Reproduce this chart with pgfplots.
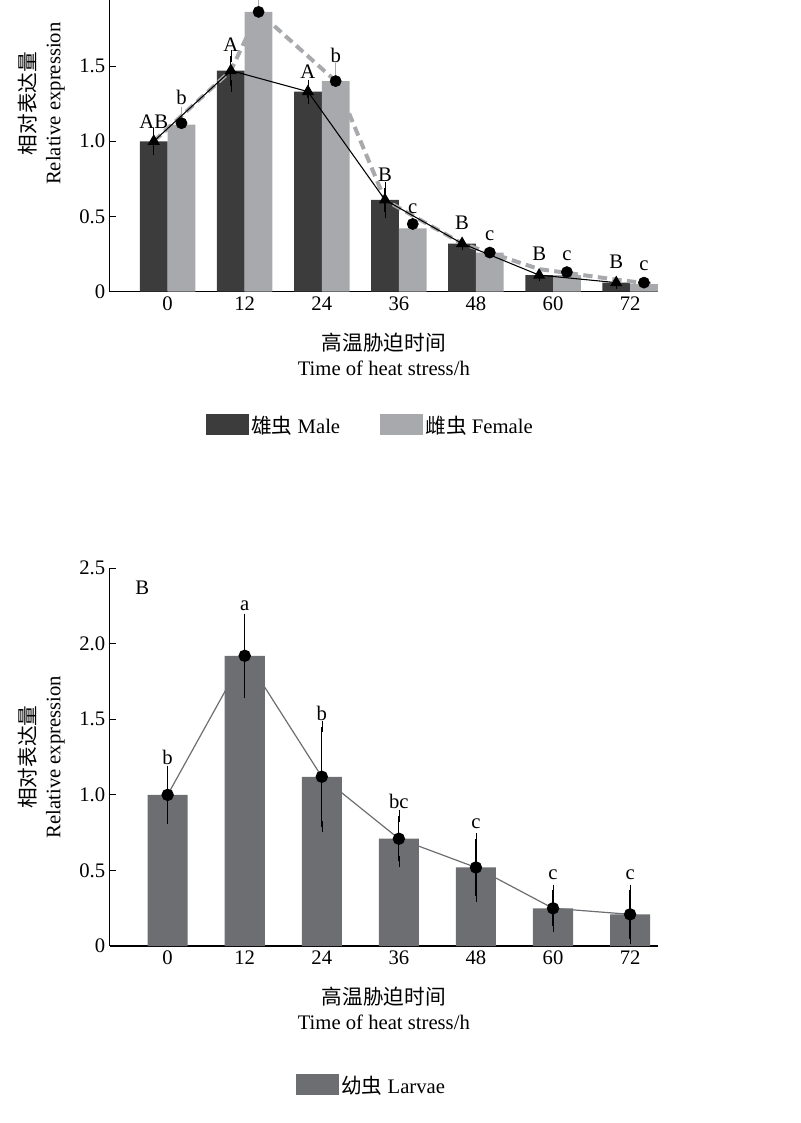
\documentclass[border=0pt]{standalone}
\usepackage{pgfplots}
\pgfplotsset{compat=1.18}
\usepackage{fontspec}
\setmainfont{Liberation Serif}
\newfontfamily\cjk{Noto Sans CJK SC}
\definecolor{dk}{HTML}{3C3C3D}
\definecolor{lt}{HTML}{A7A9AC}
\definecolor{md}{HTML}{6D6E71}
\pgfplotsset{
  base/.style={
    scale only axis, width=411pt, height=282pt,
    axis lines=left, axis line style={-, line width=0.9pt},
    xmin=-0.75, xmax=6.36, ymin=0, ymax=2.5,
    xtick={0,1,2,3,4,5,6}, xticklabels={0,12,24,36,48,60,72},
    x tick style={draw=none},
    ytick={0,0.5,1,1.5,2,2.5}, yticklabels={0,0.5,1.0,1.5,2.0,2.5},
    tick align=inside, major tick length=5pt, y tick style={line width=0.8pt,black},
    /pgf/number format/assume math mode=true,
    ticklabel style={font=\fontsize{15.5}{18}\selectfont},
    label style={font=\fontsize{15.5}{19}\selectfont, align=center},
    xlabel={{\cjk 高温胁迫时间}\\Time of heat stress/h},
    ylabel={{\cjk 相对表达量}\\Relative expression},
    xlabel style={yshift=-10pt},
    ylabel style={yshift=4pt},
    legend style={draw=none, font=\fontsize{15.5}{18}\selectfont, legend columns=-1,
      /tikz/every even column/.append style={column sep=28pt}},
    legend image code/.code={\fill[#1] (0pt,-7pt) rectangle (32pt,9pt);},
    error bars/error bar style={line width=0.9pt},
    error bars/error mark=-,
    error bars/error mark options={mark size=5pt, line width=0.9pt},
  }
}
\begin{document}
\begin{tikzpicture}[x=1pt,y=1pt]
\useasboundingbox (0,0) rectangle (600,842.25);
\begin{axis}[base, at={(142.5,552.75)}, anchor=south west,
  legend style={at={(0.476,-0.357)}, anchor=center}]
\addplot[ybar, bar width=0.36, bar shift=-0.18, fill=dk, draw=none] coordinates {(0,1.00)(1,1.47)(2,1.33)(3,0.61)(4,0.32)(5,0.11)(6,0.06)};
\addlegendentry{{\cjk 雄虫} Male}
\addplot[ybar, bar width=0.36, bar shift=0.18, fill=lt, draw=none] coordinates {(0,1.11)(1,1.86)(2,1.40)(3,0.42)(4,0.26)(5,0.11)(6,0.05)};
\addlegendentry{{\cjk 雌虫} Female}
\addplot[lt, forget plot, draw=none, mark=none, error bars/.cd, y dir=plus, y explicit, error bar style={lt}, error mark options={lt}] coordinates {(0.18,1.11)+-(0,0.10) (1.18,1.86)+-(0,0.28) (2.18,1.40)+-(0,0.10)};
\addplot[lt, dashed, dash pattern=on 7pt off 4pt, line width=3pt, forget plot] coordinates {(-0.18,1.00)(0.82,1.47)(1.18,1.86)(2.18,1.40)(2.82,0.61)(3.82,0.32)(4.82,0.15)(5.82,0.08)(6.3,0.05)};
\addplot[black, line width=0.8pt, mark=triangle*, mark size=4.5pt, forget plot, error bars/.cd, y dir=both, y explicit, error bar style={black}, error mark options={black}] coordinates {(-0.18,1.00)+-(0,0.05) (0.82,1.47)+-(0,0.10) (1.82,1.33)+-(0,0.04) (2.82,0.61)+-(0,0.08) (3.82,0.32)+-(0,0.0) (4.82,0.11)+-(0,0.0) (5.82,0.06)+-(0,0.0)};
\addplot[only marks, black, mark=*, mark size=4.2pt, forget plot] coordinates {(0.18,1.12)(1.18,1.86)(2.18,1.40)(3.18,0.45)(4.18,0.26)(5.18,0.13)(6.18,0.06)};
\begin{scope}[font=\fontsize{15.5}{18}\selectfont]
\node at (axis cs:-0.33,2.33) {A};
\node at (axis cs:-0.18,1.13) {AB};
\node at (axis cs:0.18,1.29) {b};
\node at (axis cs:0.82,1.64) {A};
\node at (axis cs:1.18,2.22) {a};
\node at (axis cs:1.82,1.46) {A};
\node at (axis cs:2.18,1.57) {b};
\node at (axis cs:2.82,0.78) {B};
\node at (axis cs:3.18,0.55) {c};
\node at (axis cs:3.82,0.46) {B};
\node at (axis cs:4.18,0.37) {c};
\node at (axis cs:4.82,0.25) {B};
\node at (axis cs:5.18,0.24) {c};
\node at (axis cs:5.82,0.20) {B};
\node at (axis cs:6.18,0.17) {c};
\end{scope}
\end{axis}
\begin{axis}[base, at={(142.5,117)}, anchor=south west, height=283.5pt,
  legend style={at={(0.478,-0.37)}, anchor=center}]
\addplot[ybar, bar width=0.52, fill=md, draw=none] coordinates {(0,1.00)(1,1.92)(2,1.12)(3,0.71)(4,0.52)(5,0.25)(6,0.21)};
\addlegendentry{{\cjk 幼虫} Larvae}
\addplot[md, line width=0.9pt, mark=*, mark size=4.2pt, mark options={black}, forget plot, error bars/.cd, y dir=both, y explicit, error bar style={black}, error mark options={black}] coordinates {(0,1.00)+-(0,0.155) (1,1.92)+-(0,0.24) (2,1.12)+-(0,0.33) (3,0.71)+-(0,0.15) (4,0.52)+-(0,0.19) (5,0.25)+-(0,0.12) (6,0.21)+-(0,0.16)};
\begin{scope}[font=\fontsize{15.5}{18}\selectfont]
\node at (axis cs:-0.33,2.37) {B};
\node at (axis cs:0,1.25) {b};
\node at (axis cs:1,2.25) {a};
\node at (axis cs:2,1.54) {b};
\node at (axis cs:3,0.96) {bc};
\node at (axis cs:4,0.81) {c};
\node at (axis cs:5,0.47) {c};
\node at (axis cs:6,0.47) {c};
\end{scope}
\end{axis}
\end{tikzpicture}
\end{document}
